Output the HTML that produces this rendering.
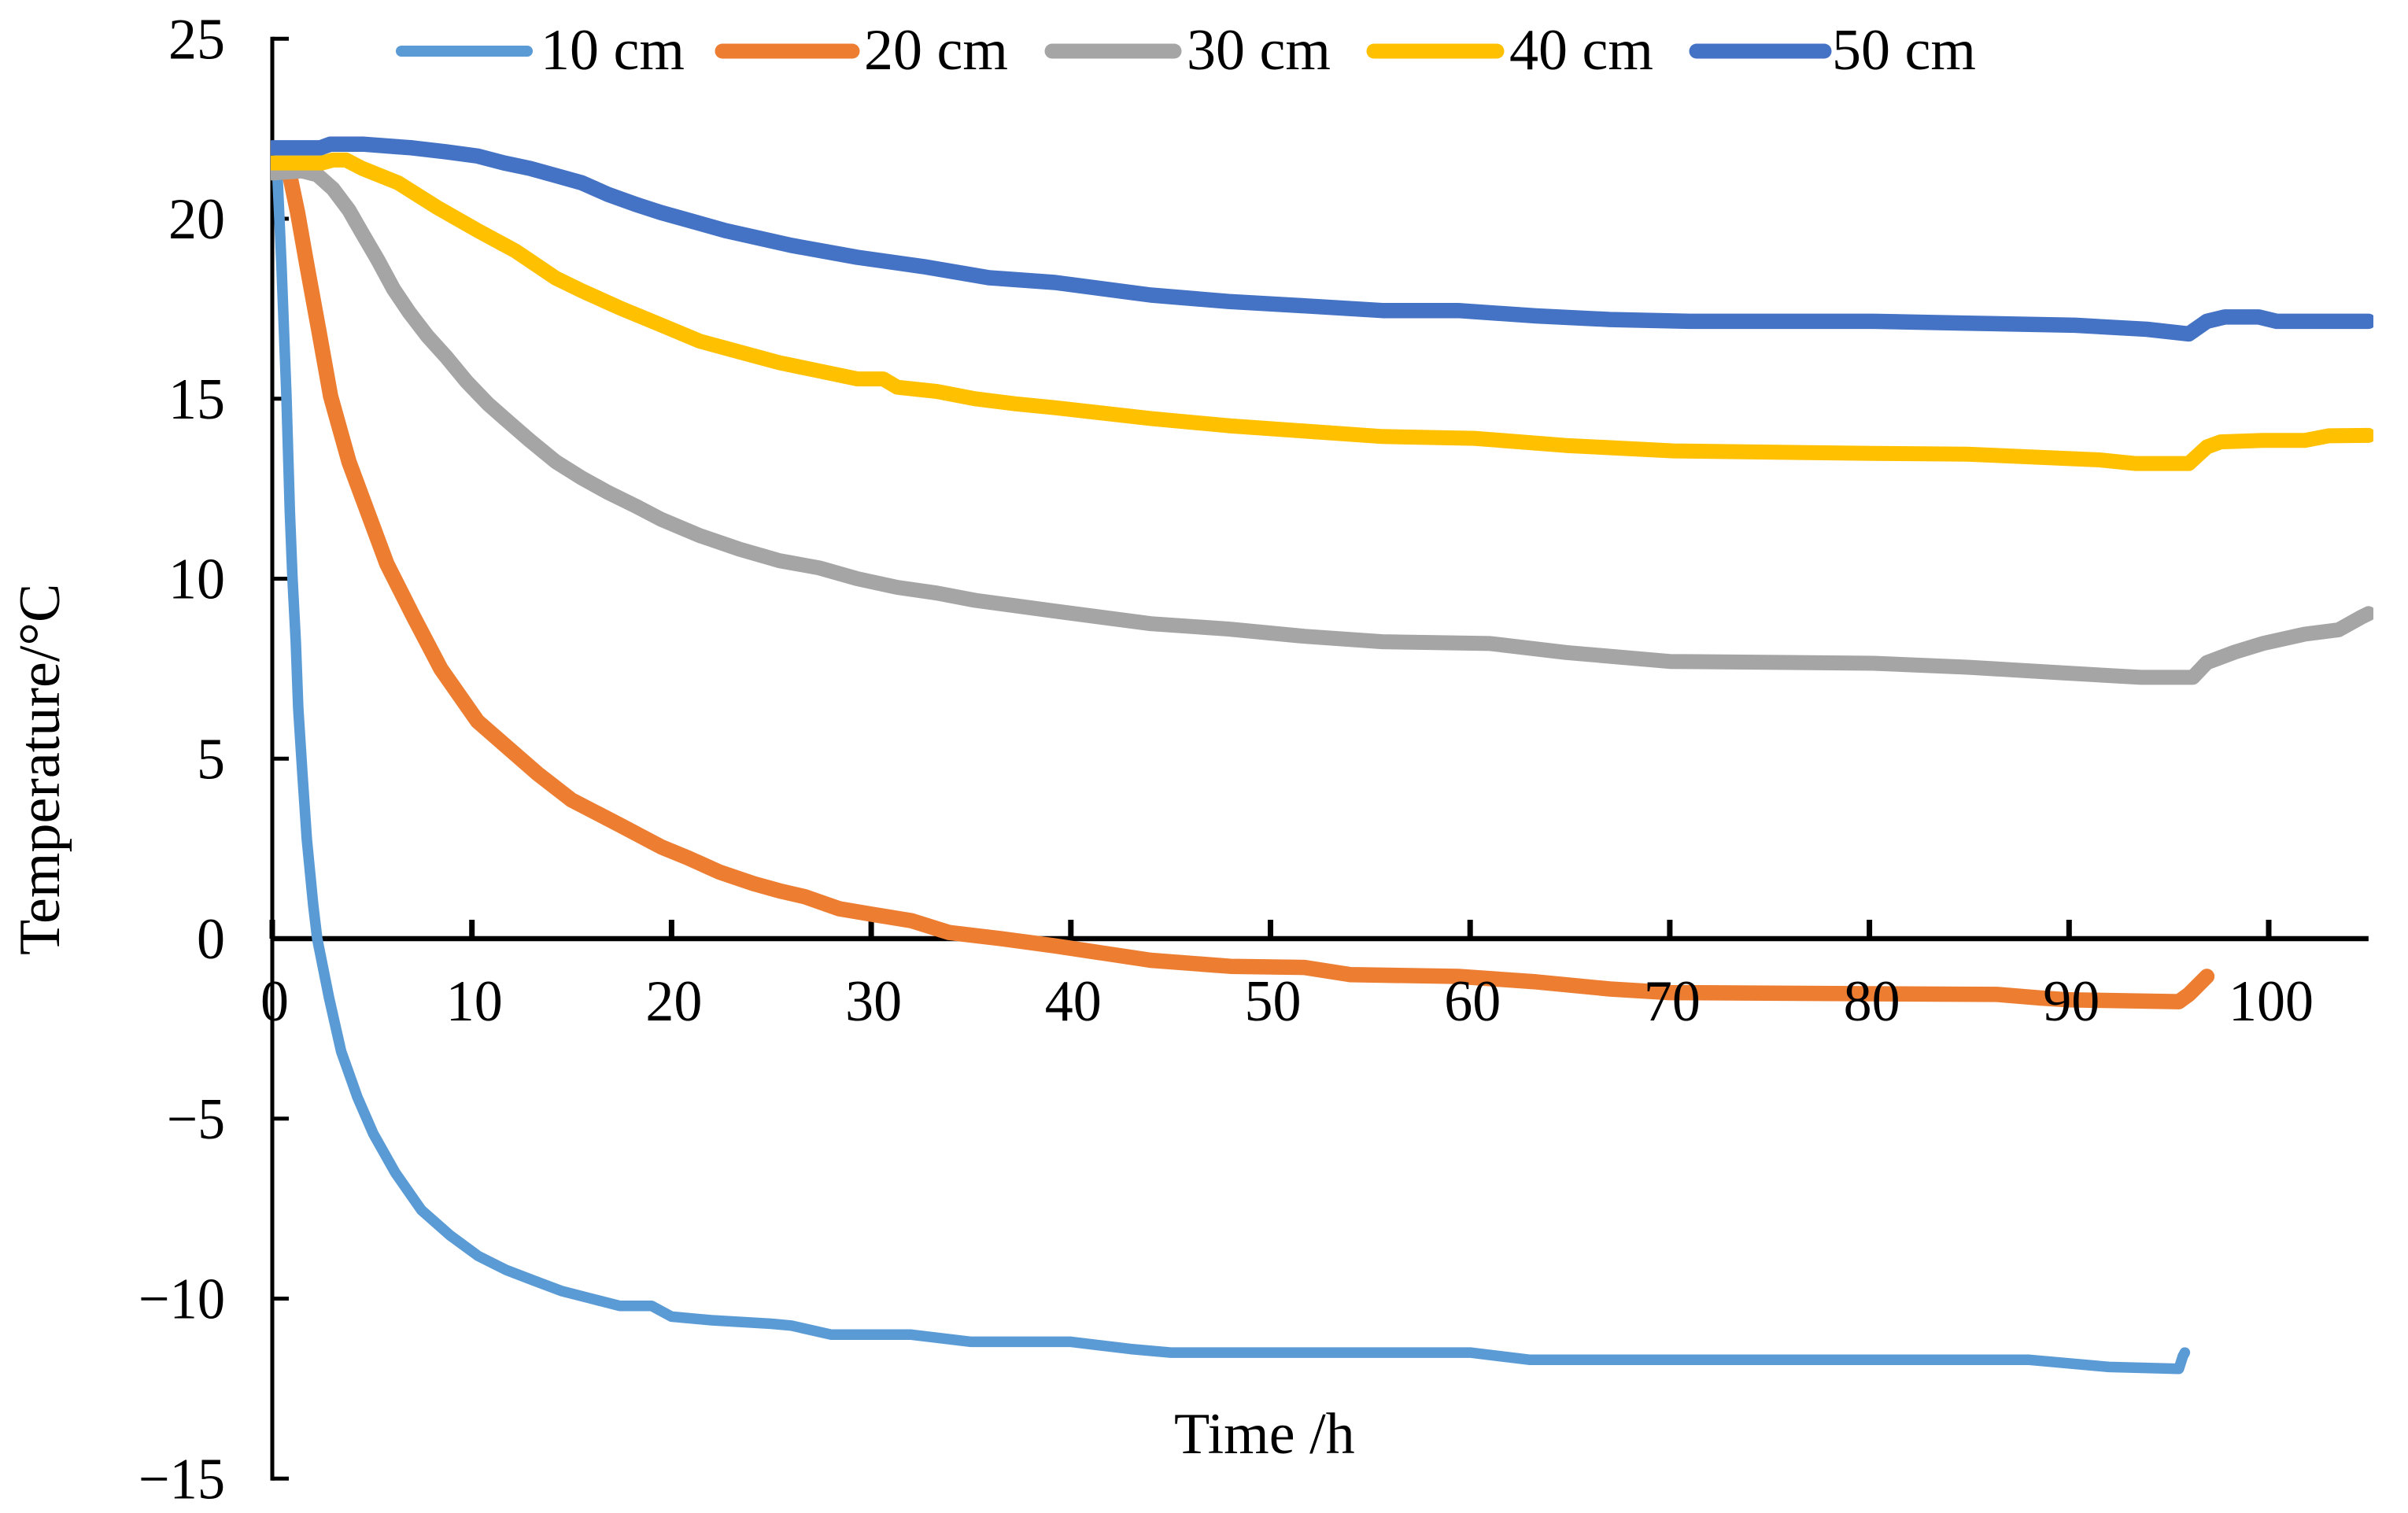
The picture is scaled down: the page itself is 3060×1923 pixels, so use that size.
<!DOCTYPE html>
<html lang="en">
<head>
<meta charset="utf-8">
<title>Temperature over time at five depths</title>
<style>
html,body{margin:0;padding:0;background:#fff;}
svg{display:block;}
text{font-family:"Liberation Serif","Noto Serif CJK SC",serif;fill:#000;}
</style>
</head>
<body>
<svg id="chart" xmlns="http://www.w3.org/2000/svg" width="3060" height="1923" viewBox="0 0 3060 1923">
  <rect x="0" y="0" width="3060" height="1923" fill="#ffffff"/>
  <defs>
    <clipPath id="plot-clip"><rect x="344" y="0" width="2672" height="1923"/></clipPath>
  </defs>
  <g id="axes"></g>
  <g id="series" clip-path="url(#plot-clip)"></g>
  <g id="labels"></g>
  <g id="legend">
    <g>
      <line x1="510" y1="65" x2="670" y2="65" stroke="#5B9BD5" stroke-width="14" stroke-linecap="round"/>
      <text x="687" y="88" font-size="74">10 cm</text>
    </g>
    <g>
      <line x1="918" y1="65" x2="1083" y2="65" stroke="#ED7D31" stroke-width="19" stroke-linecap="round"/>
      <text x="1098" y="88" font-size="74">20 cm</text>
    </g>
    <g>
      <line x1="1337" y1="65" x2="1492" y2="65" stroke="#A5A5A5" stroke-width="19" stroke-linecap="round"/>
      <text x="1508" y="88" font-size="74">30 cm</text>
    </g>
    <g>
      <line x1="1746" y1="65" x2="1902" y2="65" stroke="#FFC000" stroke-width="19" stroke-linecap="round"/>
      <text x="1918" y="88" font-size="74">40 cm</text>
    </g>
    <g>
      <line x1="2156" y1="65" x2="2318" y2="65" stroke="#4472C4" stroke-width="19" stroke-linecap="round"/>
      <text x="2328" y="88" font-size="74">50 cm</text>
    </g>
  </g>
  <text x="1492" y="1847" font-size="74">Time /h</text>
  <text transform="translate(75,1214) rotate(-90)" x="0" y="0" font-size="74">Temperature/°C</text>
</svg>
<script>
var xTicks = [0,10,20,30,40,50,60,70,80,90,100];
var yTicks = [25,20,15,10,5,0,-5,-10,-15];

var hours10 = [0,0.26,0.46,0.71,0.88,1.01,1.18,1.3,1.51,1.73,2.05,2.25,2.84,3.45,4.26,5.06,6.17,7.47,8.9,10.3,11.7,13.1,14.5,15.9,17.4,19,20,22,25,26,28,32,35,40,43,45,60,63,88,92,95.5,95.7,95.8];
var temps10 = [21.5,21.2,18.7,15.07,11.87,10.05,8.23,6.4,4.58,2.76,0.94,0,-1.64,-3.13,-4.4,-5.42,-6.51,-7.54,-8.24,-8.81,-9.2,-9.5,-9.79,-9.99,-10.2,-10.2,-10.5,-10.6,-10.7,-10.75,-11,-11,-11.2,-11.2,-11.4,-11.5,-11.5,-11.7,-11.7,-11.9,-11.95,-11.6,-11.5];

var hours20 = [0,0.88,1.27,1.73,2.33,2.92,3.84,4.76,5.74,7.06,8.44,10.28,13.3,15,17.5,19.47,20.8,22.4,24.1,25.4,26.7,28.4,30,32,33.9,36.5,39.2,44,48,51.7,54,59.4,63.3,67,70,86.4,88.6,90,95.5,96,96.9];
var temps20 = [21.5,21.2,20.17,18.72,16.9,15.07,13.25,11.87,10.41,8.96,7.5,6.04,4.58,3.85,3.13,2.55,2.25,1.85,1.53,1.33,1.16,0.83,0.68,0.5,0.17,0,-0.2,-0.6,-0.77,-0.8,-1,-1.05,-1.2,-1.4,-1.5,-1.55,-1.65,-1.7,-1.75,-1.55,-1.05];

var hours30 = [0,1.47,2.25,3.04,3.84,4.5,5.28,6.07,6.86,7.77,8.7,9.74,10.8,11.86,12.9,14.2,15.5,16.8,18.2,19.47,21.4,23.4,25.4,27.4,29.3,31.3,33.3,35.2,37.2,39.2,44,47.9,51.7,55.6,61,64.8,70,80.2,84.9,89.8,93.6,96.2,96.9,98.3,99.7,101.8,103.5,104.6,105];
var temps30 = [21.27,21.33,21.22,20.83,20.24,19.6,18.86,18.05,17.4,16.74,16.17,15.47,14.86,14.34,13.84,13.25,12.8,12.4,12.02,11.65,11.2,10.82,10.5,10.3,10,9.76,9.6,9.4,9.25,9.1,8.75,8.6,8.4,8.25,8.2,7.95,7.7,7.65,7.54,7.38,7.26,7.26,7.67,7.96,8.2,8.46,8.58,8.92,9.03];

var hours40 = [0,2.5,3.04,3.7,4.5,6.3,8.3,10.3,12.2,14.2,15.5,17.5,19.47,21.4,23.4,25.4,27.4,29.3,30.6,31.3,33.3,35.2,37.2,39.2,44,47.9,51.7,55.6,60.2,64.8,70.2,80.2,84.9,91.5,93.3,96,96.9,97.6,99.7,101.8,103,105];
var temps40 = [21.55,21.55,21.63,21.63,21.4,21,20.3,19.67,19.1,18.35,18,17.5,17.05,16.6,16.3,16,15.77,15.55,15.55,15.32,15.2,15,14.86,14.75,14.45,14.25,14.1,13.95,13.9,13.7,13.55,13.48,13.46,13.3,13.2,13.2,13.66,13.8,13.84,13.84,13.97,13.98];

var hours50 = [0,2.4,2.9,4.6,7,8.7,10.3,11.6,12.9,14.2,15.5,16.8,18.2,19.47,22.7,26,29.3,32.6,35.9,39.2,44,47.9,51.7,55.6,59.4,63.3,67,71,80.2,84.9,90.3,93.9,96,96.9,97.8,99.5,100.4,105];
var temps50 = [21.97,21.97,22.07,22.07,21.97,21.86,21.74,21.55,21.4,21.2,21,20.68,20.4,20.17,19.67,19.26,18.93,18.67,18.36,18.23,17.88,17.7,17.58,17.45,17.45,17.3,17.2,17.15,17.15,17.1,17.04,16.93,16.8,17.15,17.27,17.27,17.15,17.15];

var SVG_NS = 'http://www.w3.org/2000/svg';
function xScale(h){ return 346 + h * 25.37; }
function yScale(t){ return 1193 - t * 45.75; }
function shape(tag, parent, attrs){
  var el = document.createElementNS(SVG_NS, tag);
  for (var k in attrs) el.setAttribute(k, attrs[k]);
  parent.appendChild(el);
  return el;
}

var axes = document.getElementById('axes');
var labels = document.getElementById('labels');
var seriesGroup = document.getElementById('series');

var yAxisLine = shape('line', axes, {x1:xScale(0), y1:yScale(25)-2.5, x2:xScale(0), y2:yScale(-15)+2.5, stroke:'#000', 'stroke-width':5});


var xAxisLine = shape('line', axes, {x1:xScale(0), y1:yScale(0), x2:xScale(105), y2:yScale(0), stroke:'#000', 'stroke-width':6.5});



xTicks.forEach(function(v){
  var tick = shape('line', axes, {x1:xScale(v), y1:yScale(0), x2:xScale(v), y2:yScale(0)-24, stroke:'#000', 'stroke-width':7});
  
  
  var w = 36 * String(v).length;
  var label = shape('text', labels, {x:xScale(v)+3-w/2, y:1297, 'font-size':74, textLength:w, lengthAdjust:'spacingAndGlyphs'});
  label.textContent = String(v);
  
  
});

yTicks.forEach(function(v){
  var tick = shape('line', axes, {x1:xScale(0), y1:yScale(v), x2:xScale(0)+21, y2:yScale(v), stroke:'#000', 'stroke-width':5});
  
  
  var digits = String(Math.abs(v)).length;
  var w = 36 * digits + (v < 0 ? 38 : 0);
  var label = shape('text', labels, {x:286-w, y:yScale(v)+25, 'font-size':74, textLength:w, lengthAdjust:'spacingAndGlyphs'});
  label.textContent = (v < 0 ? '\u2212' : '') + Math.abs(v);
  
  
});

function drawSeries(name, hours, temps, color, width){
  var pts = hours.map(function(h, i){ return xScale(h).toFixed(1) + ',' + yScale(temps[i]).toFixed(1); }).join(' ');
  var line = shape('polyline', seriesGroup, {points:pts, fill:'none', stroke:color, 'stroke-width':width, 'stroke-linejoin':'round', 'stroke-linecap':'round'});
  
  
}
drawSeries('series-10cm', hours10, temps10, '#5B9BD5', 13.5);
drawSeries('series-20cm', hours20, temps20, '#ED7D31', 19.5);
drawSeries('series-30cm', hours30, temps30, '#A5A5A5', 19);
drawSeries('series-40cm', hours40, temps40, '#FFC000', 19);
drawSeries('series-50cm', hours50, temps50, '#4472C4', 19.5);
</script>
</body>
</html>
